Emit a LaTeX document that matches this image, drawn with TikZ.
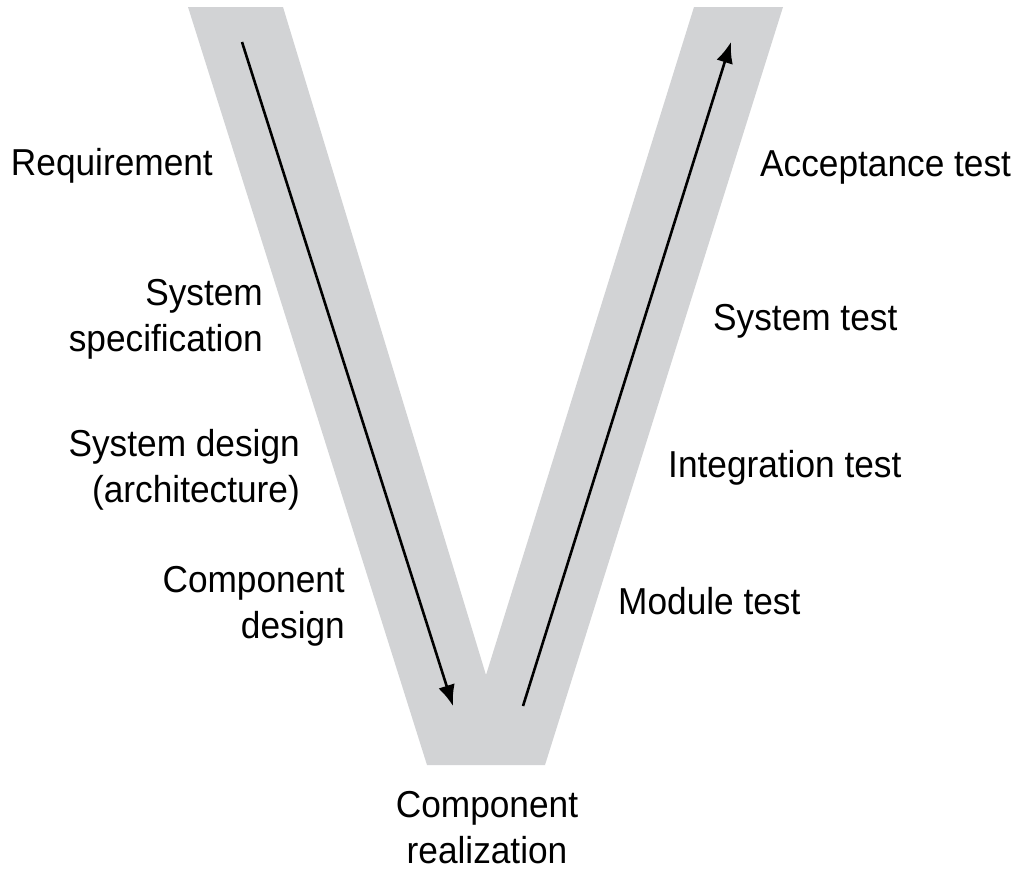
\documentclass[tikz,border=0pt]{standalone}
\usepackage{fontspec}
\setmainfont[FakeStretch=0.94]{Liberation Sans}
\usetikzlibrary{arrows.meta}
\definecolor{vgray}{RGB}{210,211,213}

\begin{document}
\begin{tikzpicture}[x=1pt, y=-1pt,
    every node/.style = {inner sep=0pt, font=\fontsize{37.5}{46}\selectfont},
    phase/.style = {anchor=base east, align=right},
    check/.style = {anchor=base west, align=left},
    flow/.style = {line width=2.6pt, -{Latex[length=21pt,width=17pt]}}]
  \useasboundingbox (0,0) rectangle (1022,870);
  % the V band
  \fill[vgray] (188,7) -- (283,7) -- (486,675) -- (694,7) -- (783,7)
    -- (545,765) -- (427,765) -- cycle;
  % left arm: specification (base = last line)
  \node[phase] (req)  at (213,175) {Requirement};
  \node[phase] (spec) at (263,351) {System\\specification};
  \node[phase] (arch) at (300,502) {System design\\(architecture)};
  \node[phase] (comp) at (345,638) {Component\\design};
  % bottom
  \node[anchor=base, align=center] (real) at (487,863) {Component\\realization};
  % right arm: testing
  \node[check] (acc)  at (760,176) {Acceptance test};
  \node[check] (syst) at (713,330) {System test};
  \node[check] (intg) at (668,477) {Integration test};
  \node[check] (mod)  at (618,614) {Module test};
  % arrows
  \coordinate (downstart) at (242,42);
  \coordinate (downend)   at (453,706);
  \coordinate (upstart)   at (523,706);
  \coordinate (upend)     at (731,42);
  \draw[flow] (downstart) -- (downend);
  \draw[flow] (upstart) -- (upend);
\end{tikzpicture}
\end{document}
